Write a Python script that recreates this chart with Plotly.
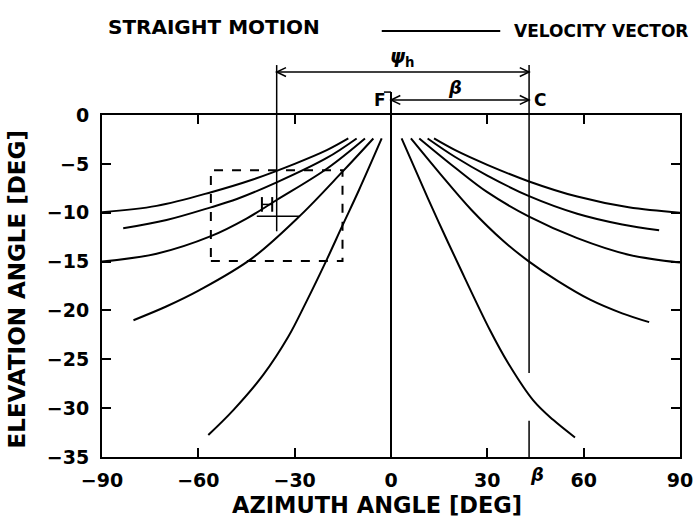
import plotly.graph_objects as go

# ---------------- data ----------------
# right-hand family (azimuth > 0)
r1_x = [13.4, 20.0, 30.0, 43.0, 58.0, 74.0, 90.0]
r1_y = [-2.4, -3.6, -5.1, -6.8, -8.35, -9.45, -10.0]
r2_x = [11.4, 20.0, 30.0, 43.0, 58.0, 72.0, 83.5]
r2_y = [-2.4, -4.3, -6.2, -8.3, -10.1, -11.2, -11.8]
r3_x = [8.8, 20.0, 30.0, 43.0, 58.0, 74.0, 90.0]
r3_y = [-2.4, -5.4, -7.9, -10.4, -12.6, -14.3, -15.1]
r4_x = [6.2, 15.0, 25.0, 35.0, 43.0, 52.0, 62.0, 72.0, 80.4]
r4_y = [-2.4, -5.9, -9.7, -12.9, -15.0, -17.0, -18.9, -20.3, -21.2]
r5_x = [3.3, 11.6, 16.3, 21.0, 30.8, 36.5, 44.3, 50.5, 57.3]
r5_y = [-2.4, -8.6, -12.0, -15.3, -22.0, -25.4, -29.2, -31.2, -33.0]

# left-hand family (azimuth < 0)
l1_x = [-13.3, -20.0, -30.0, -43.0, -56.0, -73.0, -90.0]
l1_y = [-2.4, -3.6, -5.0, -6.6, -7.9, -9.3, -9.95]
l2_x = [-10.7, -20.0, -35.6, -48.0, -56.1, -69.9, -83.4]
l2_y = [-2.4, -4.4, -6.9, -8.6, -9.45, -10.75, -11.6]
l3_x = [-8.1, -20.0, -35.6, -45.0, -56.1, -73.0, -90.0]
l3_y = [-2.4, -5.5, -8.7, -10.6, -12.4, -14.2, -15.0]
l4_x = [-5.5, -15.1, -28.3, -43.4, -59.5, -70.0, -80.2]
l4_y = [-2.4, -5.8, -10.3, -14.7, -17.9, -19.6, -21.0]
l5_x = [-2.9, -10.0, -15.1, -20.0, -26.5, -32.0, -39.8, -49.1, -56.9]
l5_y = [-2.4, -7.7, -11.3, -14.8, -19.2, -22.7, -26.6, -30.2, -32.75]

x_tickvals = [-90, -60, -30, 0, 30, 60, 90]
x_ticktext = ["\u221290", "\u221260", "\u221230", "0", "30", "60", "90"]
y_tickvals = [0, -5, -10, -15, -20, -25, -30, -35]
y_ticktext = ["0", "\u22125", "\u221210", "\u221215", "\u221220", "\u221225", "\u221230", "\u221235"]

beta = 43.0       # azimuth of target C
psi_left = -35.6  # left end of psi_h dimension
psi_bottom = -11.9
beta_line_bottom = -26.4
beta_tick_top = -31.3
box_x = [-56.1, -15.1]
box_y = [-14.95, -5.65]

# heights (paper fraction) of the dimension lines above the plot
psi_dim_y = 1.1257
beta_dim_y = 1.0439

# ---------------- figure ----------------
FONT = "DejaVu Sans"
fig = go.Figure()
for xs, ys in [(r1_x, r1_y), (r2_x, r2_y), (r3_x, r3_y), (r4_x, r4_y), (r5_x, r5_y),
               (l1_x, l1_y), (l2_x, l2_y), (l3_x, l3_y), (l4_x, l4_y), (l5_x, l5_y)]:
    fig.add_trace(go.Scatter(x=xs, y=ys, mode="lines",
                             line=dict(color="black", width=2, shape="spline", smoothing=1.0),
                             showlegend=False, hoverinfo="skip"))

axis_common = dict(ticks="inside", ticklen=9, tickwidth=1.5, tickcolor="black",
                   showline=True, linewidth=2, linecolor="black", mirror="ticks",
                   showgrid=False, zeroline=False, automargin=False,
                   tickfont=dict(family=FONT, size=19, color="black", weight="bold"))

fig.update_layout(
    width=694, height=523,
    margin=dict(l=102, r=14, t=115, b=66, autoexpand=False),
    paper_bgcolor="white", plot_bgcolor="white",
    showlegend=False,
    xaxis=dict(range=[-90, 90], tickvals=x_tickvals, ticktext=x_ticktext,
               ticklabelstandoff=5, **axis_common),
    yaxis=dict(range=[-35, 0], tickvals=y_tickvals, ticktext=y_ticktext,
               ticklabelstandoff=7, **axis_common),
)

ln = dict(color="black", width=1.5)


def chevron(xtip, ytip, direction):
    """open arrowhead: direction=+1 points right, -1 points left"""
    dx, dy = 2.9 * direction, 0.013
    return dict(type="path", xref="x", yref="paper", line=ln,
                path=f"M {xtip - dx},{ytip + dy} L {xtip},{ytip} L {xtip - dx},{ytip - dy}")


shapes = [
    # zero-azimuth line (F) inside and above the plot
    dict(type="line", xref="x", yref="y", x0=0, x1=0, y0=-35, y1=0, line=dict(color="black", width=2)),
    dict(type="line", xref="x", yref="paper", x0=0, x1=0, y0=1.0, y1=1.067, line=dict(color="black", width=2)),
    dict(type="line", xref="x", yref="paper", x0=-2.2, x1=0, y0=1.067, y1=1.067, line=ln),
    # beta line (C)
    dict(type="line", xref="x", yref="y", x0=beta, x1=beta, y0=0, y1=beta_line_bottom, line=ln),
    dict(type="line", xref="x", yref="paper", x0=beta, x1=beta, y0=1.0, y1=1.146, line=ln),
    dict(type="line", xref="x", yref="y", x0=beta, x1=beta, y0=-35, y1=beta_tick_top, line=ln),
    # psi_h line
    dict(type="line", xref="x", yref="y", x0=psi_left, x1=psi_left, y0=0, y1=psi_bottom, line=ln),
    dict(type="line", xref="x", yref="paper", x0=psi_left, x1=psi_left, y0=1.0, y1=1.146, line=ln),
    # dimension lines with open arrowheads
    dict(type="line", xref="x", yref="paper", x0=psi_left, x1=beta, y0=psi_dim_y, y1=psi_dim_y, line=ln),
    chevron(psi_left, psi_dim_y, -1), chevron(beta, psi_dim_y, 1),
    dict(type="line", xref="x", yref="paper", x0=0, x1=beta, y0=beta_dim_y, y1=beta_dim_y, line=ln),
    chevron(0, beta_dim_y, -1), chevron(beta, beta_dim_y, 1),
    # dashed window
    dict(type="rect", xref="x", yref="y", x0=box_x[0], x1=box_x[1], y0=box_y[0], y1=box_y[1],
         line=dict(color="black", width=2, dash="dash")),
    # aircraft symbol
    dict(type="line", xref="x", yref="y", x0=-40.2, x1=-40.2, y0=-8.4, y1=-9.9, line=dict(color="black", width=2)),
    dict(type="line", xref="x", yref="y", x0=-37.0, x1=-37.0, y0=-8.4, y1=-9.9, line=dict(color="black", width=2)),
    dict(type="line", xref="x", yref="y", x0=-40.2, x1=-37.0, y0=-9.15, y1=-9.15, line=ln),
    dict(type="line", xref="x", yref="y", x0=-41.8, x1=-28.3, y0=-10.35, y1=-10.35, line=ln),
    # legend sample line
    dict(type="line", xref="paper", yref="paper", x0=0.484, x1=0.689, y0=1.2456, y1=1.2456,
         line=dict(color="black", width=2)),
]
fig.update_layout(shapes=shapes)


def txt(text, x, y, size, xref="x", yref="paper", xanchor="center", angle=0):
    return dict(text=text, x=x, y=y, xref=xref, yref=yref, xanchor=xanchor, yanchor="middle",
                textangle=angle, showarrow=False, font=dict(family=FONT, size=size, color="black"))


annotations = [
    txt("<b>STRAIGHT MOTION</b>", 0.193, 1.257, 20, xref="paper"),
    txt("<b>VELOCITY VECTOR</b>", 0.709, 1.2456, 17, xref="paper", xanchor="left"),
    txt("<b>AZIMUTH ANGLE [DEG]</b>", 0.476, -0.141, 22.5, xref="paper"),
    txt("<b>ELEVATION ANGLE [DEG]</b>", -0.147, 0.49, 23, xref="paper", angle=-90),
    txt("<b><i>\u03c8</i></b><sub><b>h</b></sub>", 3.5, 1.168, 19),
    txt("<b><i>\u03b2</i></b>", 20.0, 1.081, 18),
    txt("<b>F</b>", -0.8, 1.044, 17, xanchor="right"),
    txt("<b>C</b>", 43.8, 1.044, 17, xanchor="left"),
    txt("<b><i>\u03b2</i></b>", 45.5, -0.05, 18),
]
fig.update_layout(annotations=annotations)

fig.write_html("out.html")
